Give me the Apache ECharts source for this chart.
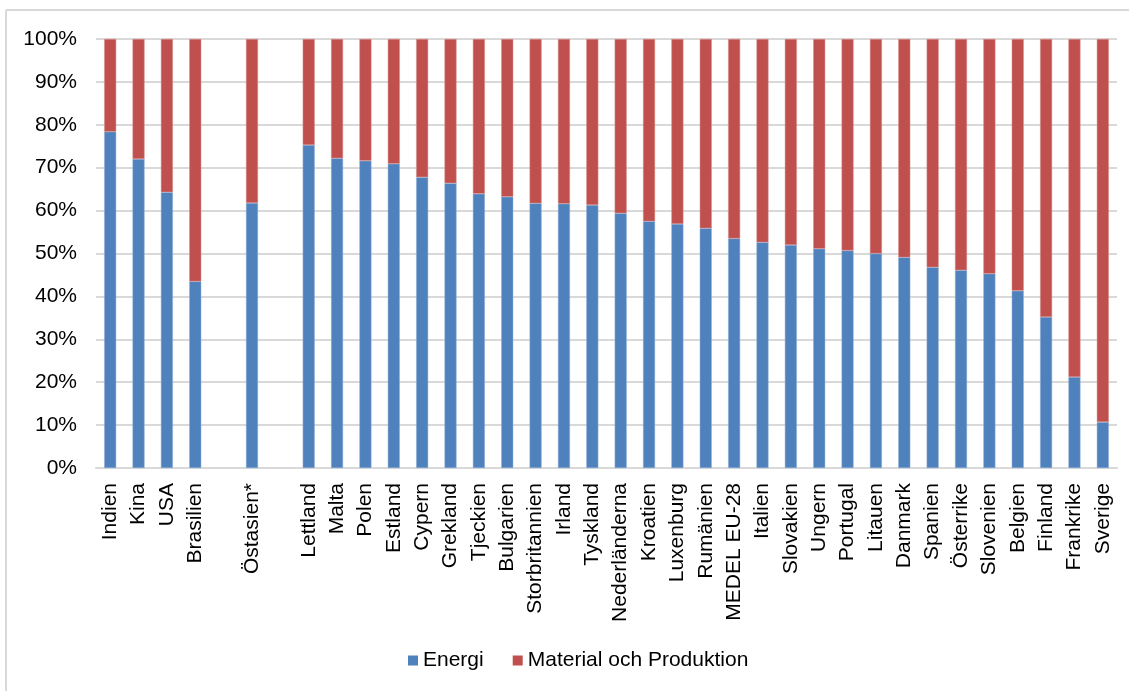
<!DOCTYPE html>
<html>
<head>
<meta charset="utf-8">
<script src="https://cdn.jsdelivr.net/npm/echarts@6/dist/echarts.min.js"></script>
<style>
  html, body { margin: 0; padding: 0; background: #fff; }
  #chart { width: 1129px; height: 691px; }
</style>
</head>
<body>
<div id="chart"></div>
<script>
// Countries, with two empty slots separating the groups
const categories = [
  'Indien', 'Kina', 'USA', 'Brasilien', '', 'Östasien*', '',
  'Lettland', 'Malta', 'Polen', 'Estland', 'Cypern', 'Grekland', 'Tjeckien',
  'Bulgarien', 'Storbritannien', 'Irland', 'Tyskland', 'Nederländerna',
  'Kroatien', 'Luxenburg', 'Rumänien', 'MEDEL EU-28', 'Italien', 'Slovakien',
  'Ungern', 'Portugal', 'Litauen', 'Danmark', 'Spanien', 'Österrike',
  'Slovenien', 'Belgien', 'Finland', 'Frankrike', 'Sverige'
];

// Share from energy (%)
const energi = [
  78.4, 72.0, 64.3, 43.5, null, 61.8, null,
  75.3, 72.2, 71.6, 70.9, 67.8, 66.4, 63.9,
  63.2, 61.7, 61.6, 61.3, 59.4,
  57.5, 56.9, 55.9, 53.5, 52.6, 52.0,
  51.1, 50.7, 50.0, 49.1, 46.8, 46.1,
  45.3, 41.3, 35.2, 21.2, 10.7
];

// Share from materials and production (%)
const material = [
  21.6, 28.0, 35.7, 56.5, null, 38.2, null,
  24.7, 27.8, 28.4, 29.1, 32.2, 33.6, 36.1,
  36.8, 38.3, 38.4, 38.7, 40.6,
  42.5, 43.1, 44.1, 46.5, 47.4, 48.0,
  48.9, 49.3, 50.0, 50.9, 53.2, 53.9,
  54.7, 58.7, 64.8, 78.8, 89.3
];

const yTicks = { min: 0, max: 100, interval: 10 };

const FONT = '"Liberation Sans", Arial, sans-serif';
const FONT_SIZE = 21;

const chart = echarts.init(document.getElementById('chart'), null, { renderer: 'canvas' });

chart.setOption({
  animation: false,
  backgroundColor: '#ffffff',
  graphic: [
    { type: 'line', shape: { x1: 6, y1: 10, x2: 6, y2: 691 }, style: { stroke: '#d9d9d9', lineWidth: 2 } },
    { type: 'line', shape: { x1: 6, y1: 10, x2: 1129, y2: 10 }, style: { stroke: '#d9d9d9', lineWidth: 2 } }
  ],
  grid: { left: 96, right: 12, top: 39, bottom: 223, containLabel: false },
  legend: {
    left: 408,
    top: 650,
    padding: 0,
    itemWidth: 10,
    itemHeight: 10,
    itemGap: 29,
    icon: 'rect',
    itemStyle: { borderWidth: 0 },
    textStyle: { fontFamily: FONT, fontSize: FONT_SIZE, color: '#000' },
    data: ['Energi', 'Material och Produktion']
  },
  xAxis: {
    type: 'category',
    data: categories,
    axisLine: { lineStyle: { color: '#d9d9d9', width: 2 } },
    axisTick: { show: false },
    axisLabel: {
      interval: 0,
      rotate: 90,
      margin: 15,
      fontFamily: FONT,
      fontSize: FONT_SIZE,
      color: '#000'
    }
  },
  yAxis: {
    type: 'value',
    min: yTicks.min,
    max: yTicks.max,
    interval: yTicks.interval,
    axisLine: { show: false },
    axisTick: { show: false },
    splitLine: { lineStyle: { color: '#d9d9d9', width: 2 } },
    axisLabel: {
      margin: 19,
      fontFamily: FONT,
      fontSize: FONT_SIZE,
      color: '#000',
      formatter: v => v + '%'
    }
  },
  series: [
    {
      name: 'Energi',
      type: 'bar',
      stack: 'total',
      barWidth: 12,
      itemStyle: { color: '#4F81BD', borderColor: '#8fb0d8', borderWidth: 0.5 },
      data: energi
    },
    {
      name: 'Material och Produktion',
      type: 'bar',
      stack: 'total',
      barWidth: 12,
      itemStyle: { color: '#C0504D', borderColor: '#d98e8c', borderWidth: 0.5 },
      data: material
    }
  ]
});
</script>
</body>
</html>
